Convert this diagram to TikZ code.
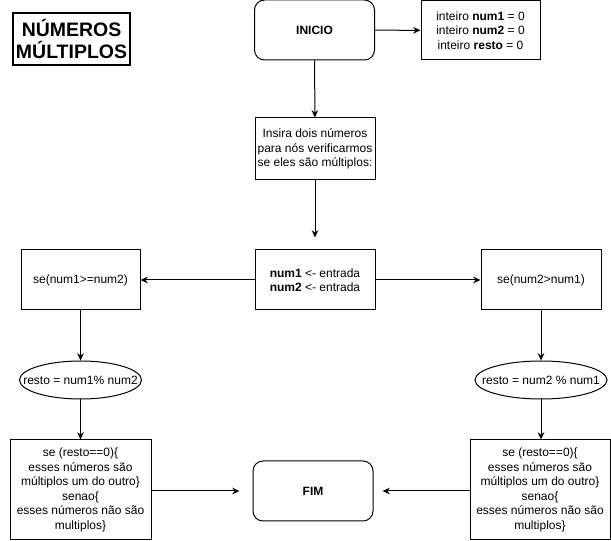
\documentclass[tikz,border=0pt]{standalone}
\usepackage{fontspec}
\setmainfont{Liberation Sans}
\usepackage{tikz}
\usetikzlibrary{shapes,arrows.meta,positioning}

\begin{document}
\begin{tikzpicture}[
    x=0.75pt, y=-0.75pt, line width=0.75pt,
    txt/.style={font=\fontsize{9}{10.9}\selectfont, align=center},
    box/.style={rectangle, draw, txt, inner sep=0pt, minimum width=90pt, minimum height=45pt},
    startbox/.style={box, rounded corners=7.5pt},
    oval/.style={ellipse, draw, inner sep=0pt, minimum height=28.5pt},
    arr/.style={-{Stealth[length=5.5pt, width=5pt]}}
]
\useasboundingbox (0,0) rectangle (611,541);
\node[box, line width=1pt, minimum width=87.75pt, minimum height=39pt, font=\fontsize{14.6}{16.5}\selectfont\bfseries] (title) at (71.5,39) {NÚMEROS\\MÚLTIPLOS};
\node[startbox, font=\fontsize{9}{10.9}\selectfont\bfseries] (inicio) at (314.5,30) {INICIO};
\node[box, minimum width=89.25pt, minimum height=44.25pt] (vars) at (480.5,30.5) {inteiro \textbf{num1} = 0\\inteiro \textbf{num2} = 0\\inteiro \textbf{resto} = 0};
\node[box, minimum height=46.5pt] (insira) at (315,149) {Insira dois números\\para nós verificarmos\\se eles são múltiplos:};
\node[box] (entrada) at (315,280) {\textbf{num1} <- entrada\\\textbf{num2} <- entrada};
\node[box, minimum width=89.25pt] (seA) at (80.5,280) {se(num1>=num2)};
\node[box] (seB) at (541,280) {se(num2>num1)};
\node[oval, minimum width=91.5pt, label={[txt]center:resto = num1\% num2}] (restoA) at (80.5,380) {};
\node[oval, minimum width=99pt, label={[txt]center:resto = num2 \% num1}] (restoB) at (541,380) {};
\node[box, minimum width=105.75pt, minimum height=75pt] (testeA) at (80.5,490) {se (resto==0)\{\\esses números são\\múltiplos um do outro\}\\senao\{\\esses números não são\\multiplos\}};
\node[box, minimum width=105pt, minimum height=75pt] (testeB) at (540,490) {se (resto==0)\{\\esses números são\\múltiplos um do outro\}\\senao\{\\esses números não são\\multiplos\}};
\node[startbox, font=\fontsize{9}{10.9}\selectfont\bfseries] (fim) at (313,491) {FIM};

\draw[arr] (inicio) -- (vars);
\draw[arr] (inicio) -- (insira);
\draw[arr, shorten >=9pt] (insira) -- (entrada);
\draw[arr] (entrada) -- (seA);
\draw[arr] (entrada) -- (seB);
\draw[arr] (seA) -- (restoA);
\draw[arr] (seB) -- (restoB);
\draw[arr] (restoA) -- (testeA);
\draw[arr] (restoB.south) -- (restoB.south |- testeB.north);
\draw[arr, shorten >=9.75pt] (testeA.east |- fim) -- (fim);
\draw[arr, shorten >=6.75pt] (testeB.west |- fim) -- (fim);
\end{tikzpicture}
\end{document}
